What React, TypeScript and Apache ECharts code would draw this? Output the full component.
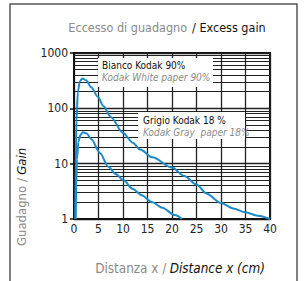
import React, { useEffect, useRef } from "react";
import * as echarts from "echarts";

const xTicks = [0, 5, 10, 15, 20, 25, 30, 35, 40];
const yDecades = [1, 10, 100, 1000];
const minorGridValues = [2, 3, 4, 5, 6, 7, 8, 9, 20, 30, 40, 50, 60, 70, 80, 90, 200, 300, 400, 500, 600, 700, 800, 900];

const whitePaper: [number, number][] = [
  [0.25, 1], [0.35, 10], [0.5, 60], [0.8, 200], [1.2, 310], [1.7, 345], [2.5, 320],
  [3.5, 240], [4.9, 160], [6, 110], [7.5, 70], [10, 36], [12, 24], [13.5, 18],
  [16, 13], [20, 8.5], [22.5, 6], [25, 4.2], [27, 2.9], [30, 1.95], [32.5, 1.55],
  [35, 1.32], [37.5, 1.15], [40, 1.0],
];

const grayPaper: [number, number][] = [
  [0.35, 1], [0.45, 4], [0.6, 12], [0.9, 25], [1.3, 33], [1.8, 37], [2.6, 35],
  [3.5, 28], [5.3, 15.6], [7, 8.8], [8.5, 6.5], [10, 5.1], [12, 3.5], [13.8, 2.7],
  [16, 2.0], [18, 1.6], [20.6, 1.18], [22, 1.0],
];

const FONT = '"Liberation Sans Narrow", "DejaVu Sans Condensed", "Liberation Sans", sans-serif';
const BLUE = "#1b8bc7";
const GRID = "#222";
const GREY_TEXT = "#8a8a8a";

export default function App() {
  const ref = useRef<HTMLDivElement>(null);
  useEffect(() => {
    if (!ref.current) return;
    const chart = echarts.init(ref.current, null, { renderer: "svg" });
    chart.setOption({
      animation: false,
      backgroundColor: "#fff",
      title: {
        text: "{a|Eccesso di guadagno} {b|/ Excess gain}",
        left: 162,
        textAlign: "center",
        top: 13,
        textStyle: {
          fontWeight: "normal",
          rich: {
            a: { fontFamily: FONT, fontSize: 12.5, fontWeight: "normal", color: GREY_TEXT },
            b: { fontFamily: FONT, fontSize: 12.5, fontWeight: "normal", color: "#111" },
          },
        },
      },
      grid: {
        left: 74,
        right: 35,
        top: 53,
        bottom: 62,
        show: true,
        borderColor: "#111",
        borderWidth: 2,
        backgroundColor: "#fff",
      },
      xAxis: {
        type: "value",
        min: xTicks[0],
        max: xTicks[xTicks.length - 1],
        interval: 5,
        axisLine: { show: true, lineStyle: { color: "#111", width: 2 } },
        axisTick: { show: false },
        axisLabel: { fontFamily: FONT, fontSize: 12, color: "#222", margin: 4 },
        splitLine: { show: true, lineStyle: { color: GRID, width: 1.3 } },
      },
      yAxis: {
        type: "log",
        logBase: 10,
        min: yDecades[0],
        max: yDecades[yDecades.length - 1],
        axisLine: { show: true, lineStyle: { color: "#111", width: 2 } },
        axisTick: { show: true, length: 4, lineStyle: { color: "#111", width: 1.5 } },
        axisLabel: {
          fontFamily: FONT,
          fontSize: 12,
          color: "#222",
          margin: 6,
          formatter: (v: number) => String(Math.round(v)),
        },
        splitLine: { show: true, lineStyle: { color: GRID, width: 1.3 } },
      },
      series: [
        {
          type: "line",
          data: whitePaper,
          showSymbol: false,
          smooth: 0.3,
          smoothMonotone: "x",
          lineStyle: { color: BLUE, width: 2 },
          z: 3,
          markLine: {
            silent: true,
            symbol: "none",
            label: { show: false },
            lineStyle: { color: GRID, width: 1.1, type: "solid" },
            data: minorGridValues.map((v) => ({ yAxis: v })),
            z: 1,
          },
        },
        {
          type: "line",
          data: grayPaper,
          showSymbol: false,
          smooth: 0.3,
          smoothMonotone: "x",
          lineStyle: { color: BLUE, width: 2 },
          z: 3,
        },
      ],
      graphic: [
        {
          type: "rect",
          shape: { x: 10, y: 4, width: 287, height: 300 },
          style: { fill: "none", stroke: "#555", lineWidth: 1.5 },
          z: 0,
        },
        {
          type: "rect",
          shape: { x: 98, y: 58, width: 115, height: 29 },
          style: { fill: "#fff" },
          z: 10,
        },
        {
          type: "text",
          x: 102,
          y: 59,
          style: {
            text: "{a|Bianco Kodak 90%}\n{b|Kodak White paper 90%}",
            rich: {
              a: { fontFamily: FONT, fontSize: 10, fill: "#111", lineHeight: 12 },
              b: { fontFamily: FONT, fontSize: 10, fontStyle: "italic", fill: GREY_TEXT, lineHeight: 12 },
            },
          },
          z: 11,
        },
        {
          type: "rect",
          shape: { x: 138, y: 112, width: 107, height: 27 },
          style: { fill: "#fff" },
          z: 10,
        },
        {
          type: "text",
          x: 143,
          y: 114,
          style: {
            text: "{a|Grigio Kodak 18 %}\n{b|Kodak Gray  paper 18%}",
            rich: {
              a: { fontFamily: FONT, fontSize: 10, fill: "#111", lineHeight: 12 },
              b: { fontFamily: FONT, fontSize: 10, fontStyle: "italic", fill: GREY_TEXT, lineHeight: 12 },
            },
          },
          z: 11,
        },
        {
          type: "text",
          x: 21,
          y: 197,
          rotation: Math.PI / 2,
          style: {
            text: "{a|Guadagno /} {b|Gain}",
            align: "center",
            verticalAlign: "middle",
            rich: {
              a: { fontFamily: FONT, fontSize: 13, fill: GREY_TEXT },
              b: { fontFamily: FONT, fontSize: 13, fontStyle: "italic", fill: "#111" },
            },
          },
          z: 11,
        },
        {
          type: "text",
          x: 180,
          y: 268,
          style: {
            text: "{a|Distanza x /} {b|Distance x (cm)}",
            align: "center",
            verticalAlign: "middle",
            rich: {
              a: { fontFamily: FONT, fontSize: 13.4, fill: GREY_TEXT },
              b: { fontFamily: FONT, fontSize: 13.4, fontStyle: "italic", fill: "#111" },
            },
          },
          z: 11,
        },
      ],
    });
    return () => chart.dispose();
  }, []);
  return (
    <div
      ref={ref}
      style={{ position: "fixed", left: 0, top: 0, width: 305, height: 281 }}
    />
  );
}
